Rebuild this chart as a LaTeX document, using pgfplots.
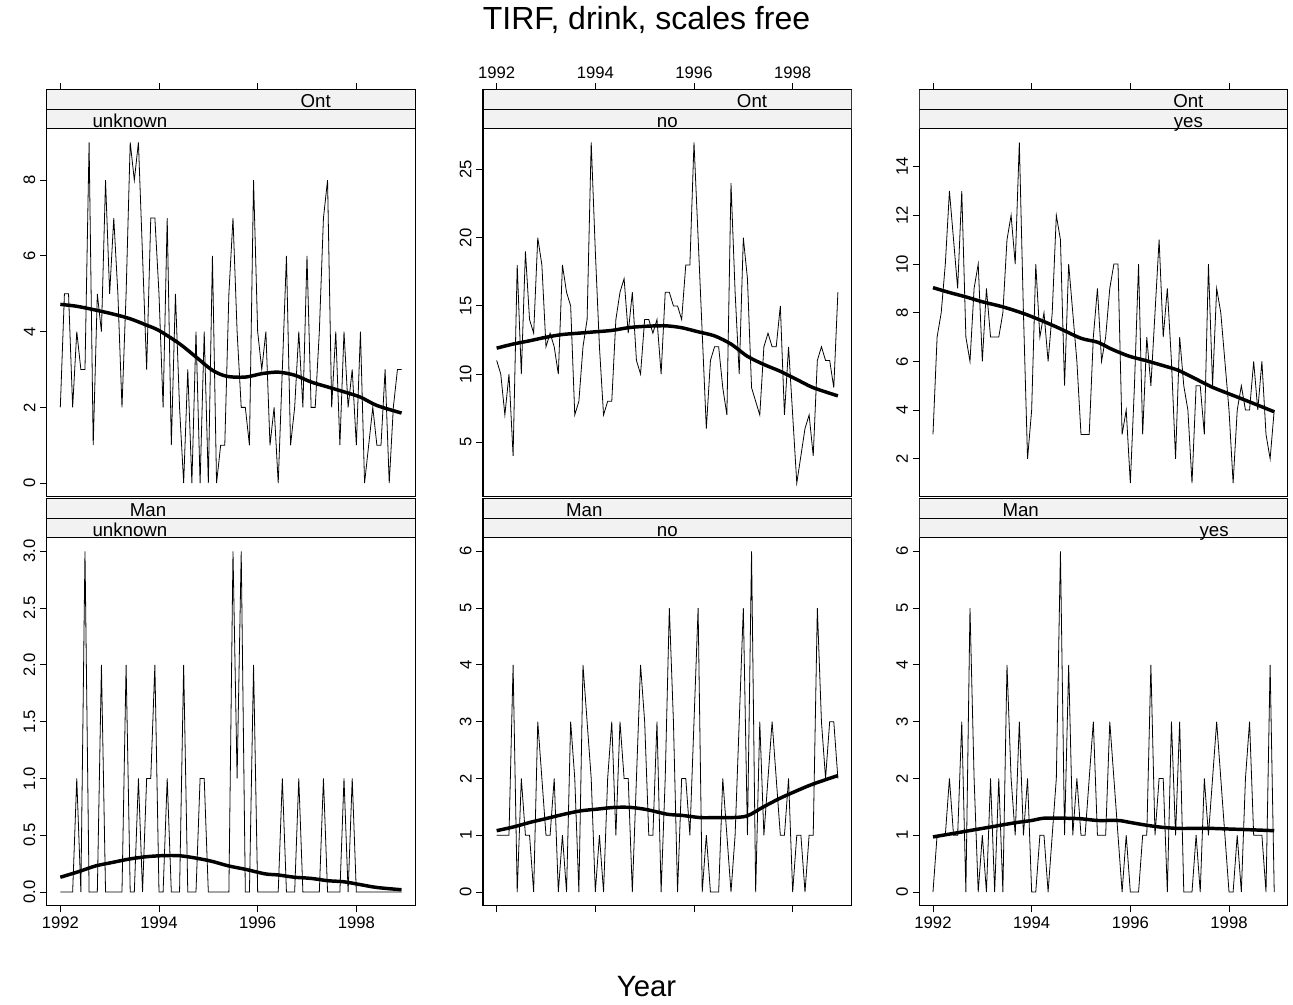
\documentclass[border=0pt]{standalone}
\usepackage{fontspec}
\setmainfont{Liberation Sans}
\usepackage{pgfplots}
\usepackage{pgfplotstable}
\pgfplotsset{compat=1.18}
\definecolor{stripgray}{HTML}{F2F2F2}

% monthly series, m = month index from Jan 1992
\pgfplotstableread{
m tl tm tr bl bm br
0 2 11 3 0 1 0
1 5 10 7 0 1 1
2 5 7 8 0 1 1
3 2 10 10 0 1 1
4 4 4 13 1 4 2
5 3 18 11 0 0 1
6 3 10 9 3 2 1
7 9 19 13 0 1 3
8 1 14 7 0 1 0
9 5 13 6 0 0 5
10 4 20 9 2 3 2
11 8 18 10 0 2 0
12 5 12 6 0 1 1
13 7 13 9 0 1 0
14 5 12 7 0 2 2
15 2 10 7 0 0 0
16 5 18 7 2 1 2
17 9 16 8 0 0 0
18 8 15 11 0 3 4
19 9 7 12 1 2 2
20 6 8 10 0 0 1
21 3 12 15 1 4 3
22 7 14 8 1 3 1
23 7 27 2 2 2 2
24 5 19 4 0 0 0
25 2 12 10 0 1 0
26 7 7 7 1 0 1
27 1 8 8 0 2 1
28 5 8 6 0 3 0
29 2 14 8 0 1 1
30 0 16 12 2 3 2
31 3 17 11 0 2 6
32 0 13 5 0 2 1
33 4 16 10 0 0 4
34 0 11 8 1 2 1
35 4 10 6 1 4 2
36 0 14 3 0 3 1
37 6 14 3 0 1 1
38 0 13 3 0 1 2
39 1 14 7 0 3 3
40 1 10 9 0 0 1
41 5 16 6 0 2 1
42 7 16 7 3 5 1
43 4 15 9 1 3 3
44 2 15 10 3 0 2
45 2 14 10 0 2 1
46 1 18 3 0 2 0
47 8 18 4 2 1 1
48 4 27 1 0 3 0
49 3 20 5 0 5 0
50 4 13 10 0 0 0
51 1 6 3 0 1 1
52 2 11 7 0 0 1
53 0 12 5 0 0 4
54 3 12 8 1 0 1
55 6 9 11 0 2 2
56 1 7 7 0 1 2
57 2 24 9 0 0 0
58 4 16 6 1 1 3
59 2 10 2 0 3 1
60 6 20 7 0 5 3
61 2 17 5 0 1 0
62 2 9 4 0 6 0
63 4 8 1 0 0 0
64 7 7 5 1 3 1
65 8 12 5 0 1 0
66 2 13 3 0 2 2
67 4 12 10 0 3 1
68 1 12 5 0 2 2
69 4 15 9 1 1 3
70 2 7 8 0 1 2
71 3 12 6 1 2 1
72 1 7 4 0 0 0
73 4 2 1 0 1 0
74 0 4 4 0 1 1
75 1 6 5 0 0 0
76 2 7 4 0 1 2
77 1 4 4 0 1 3
78 1 11 6 0 5 1
79 3 12 4 0 3 1
80 0 11 6 0 2 1
81 2 11 3 0 3 0
82 3 9 2 0 3 4
83 3 16 4 0 2 0
}\drinkdata

\pgfplotsset{
  panel/.style={
    scale only axis, anchor=south west,
    width=276.4pt, height=305.25pt,
    xmin=-3.32, xmax=86.32,
    xtick={0,24,48,72}, xticklabels={1992,1994,1996,1998},
    tick align=outside, major tick length=5pt,
    ytick pos=left,
    axis line style={line width=0.9pt},
    every tick/.style={black, line width=0.7pt},
    tick label style={font=\fontsize{12.5}{14}\selectfont},
    yticklabel style={rotate=90, anchor=south},
    /pgf/number format/assume math mode=true,
  },
  toprow/.style={xtick pos=right, xticklabel pos=right},
  botrow/.style={xtick pos=left, xticklabel pos=left},
  nolabx/.style={xticklabels={,,,}},
  raw/.style={black, line width=0.6pt, no marks},
  smoo/.style={black, line width=2.6pt, no marks, smooth},
}
\newcommand{\strips}[4]{%
  \draw[fill=stripgray, line width=0.8pt] (rel axis cs:0,0.90418) rectangle (rel axis cs:1,0.95209);
  \draw[fill=stripgray, line width=0.8pt] (rel axis cs:0,0.95209) rectangle (rel axis cs:1,1);
  \node[font=\fontsize{14}{16}\selectfont, inner sep=0pt, anchor=base] at (rel axis cs:#1,0.9565) {#2};
  \node[font=\fontsize{14}{16}\selectfont, inner sep=0pt, anchor=base] at (rel axis cs:#3,0.9075) {#4};
}

\begin{document}
\begin{tikzpicture}
\path[use as bounding box] (0,0) rectangle (969.75pt,753.75pt);

% ---------- top row: Ont ----------
\begin{axis}[panel, toprow, nolabx, at={(35.0pt,381.2pt)},
  ymin=-0.36, ymax=10.390, ytick={0,2,4,6,8}]
  \addplot[raw] table[x=m, y=tl] {\drinkdata};
  \addplot[smoo] coordinates {(0,4.72) (4,4.67) (9,4.56) (13,4.46) (17,4.34) (21,4.17) (24,4.03) (29,3.68) (33,3.33) (37,2.98) (40.5,2.82) (45,2.80) (49,2.89) (53,2.93) (57,2.85) (61,2.67) (65,2.54) (69,2.41) (73,2.27) (77,2.05) (83,1.85)};
  \strips{0.73}{Ont}{0.226}{unknown}
\end{axis}

\begin{axis}[panel, toprow, at={(362.25pt,381.2pt)},
  ymin=1, ymax=30.861, ytick={5,10,15,20,25}]
  \addplot[raw] table[x=m, y=tm] {\drinkdata};
  \addplot[smoo] coordinates {(0,11.9) (4,12.2) (8,12.44) (12,12.7) (16,12.9) (20,13.0) (24,13.1) (28,13.2) (32,13.4) (36,13.5) (41,13.54) (45,13.4) (49,13.1) (53,12.8) (57,12.2) (61,11.3) (65,10.7) (69,10.2) (73,9.6) (77,9.0) (83,8.4)};
  \strips{0.73}{Ont}{0.5}{no}
\end{axis}

\begin{axis}[panel, toprow, nolabx, at={(689.5pt,381.2pt)},
  ymin=0.44, ymax=17.162, ytick={2,4,6,8,10,12,14}]
  \addplot[raw] table[x=m, y=tr] {\drinkdata};
  \addplot[smoo] coordinates {(0,9.03) (4,8.83) (8,8.65) (12,8.45) (17,8.24) (22,7.97) (26.5,7.67) (30.6,7.37) (36,6.95) (40,6.79) (43.5,6.5) (47.6,6.22) (51.6,6.04) (55.7,5.84) (59.7,5.63) (63.8,5.29) (67.8,4.95) (71.8,4.68) (75.9,4.41) (83,3.93)};
  \strips{0.73}{Ont}{0.73}{yes}
\end{axis}

% ---------- bottom row: Man ----------
\begin{axis}[panel, botrow, at={(35.0pt,74.5pt)},
  ymin=-0.12, ymax=3.4634, ytick={0,0.5,1,1.5,2,2.5,3},
  yticklabels={0.0,0.5,1.0,1.5,2.0,2.5,3.0}]
  \addplot[raw] table[x=m, y=bl] {\drinkdata};
  \addplot[smoo] coordinates {(0,0.13) (4.5,0.18) (8.6,0.23) (12.6,0.26) (16.7,0.29) (20.7,0.31) (24.7,0.32) (28.8,0.32) (32.8,0.30) (36.9,0.27) (40.9,0.23) (45,0.20) (49.8,0.16) (53,0.15) (57,0.13) (61,0.12) (65,0.10) (69,0.09) (73,0.065) (77,0.04) (83,0.02)};
  \strips{0.275}{Man}{0.226}{unknown}
\end{axis}

\begin{axis}[panel, botrow, nolabx, at={(362.25pt,74.5pt)},
  ymin=-0.24, ymax=6.9268, ytick={0,1,2,3,4,5,6}]
  \addplot[raw] table[x=m, y=bm] {\drinkdata};
  \addplot[smoo] coordinates {(0,1.08) (4.3,1.15) (8.3,1.23) (12.4,1.30) (16.4,1.37) (20.5,1.43) (24.5,1.46) (28.6,1.49) (32.6,1.49) (36.6,1.45) (41.5,1.37) (45,1.35) (49.6,1.31) (52.8,1.31) (56.9,1.31) (60.9,1.34) (64.9,1.50) (68.9,1.65) (72.9,1.78) (76.9,1.90) (83,2.05)};
  \strips{0.275}{Man}{0.5}{no}
\end{axis}

\begin{axis}[panel, botrow, at={(689.5pt,74.5pt)},
  ymin=-0.24, ymax=6.9268, ytick={0,1,2,3,4,5,6}]
  \addplot[raw] table[x=m, y=br] {\drinkdata};
  \addplot[smoo] coordinates {(0,0.97) (4,1.02) (8,1.07) (12,1.12) (16,1.17) (20,1.22) (24,1.26) (27,1.30) (32,1.30) (36,1.29) (40,1.26) (45,1.26) (47.6,1.23) (51.6,1.18) (55.7,1.14) (59.7,1.12) (63.8,1.12) (67.8,1.12) (71.8,1.11) (75.9,1.10) (83,1.08)};
  \strips{0.275}{Man}{0.80}{yes}
\end{axis}

\node[font=\fontsize{24}{28}\selectfont] at (484.9pt,739pt) {TIRF, drink, scales free};
\node[font=\fontsize{22}{26}\selectfont] at (484.9pt,14pt) {Year};
\end{tikzpicture}
\end{document}
